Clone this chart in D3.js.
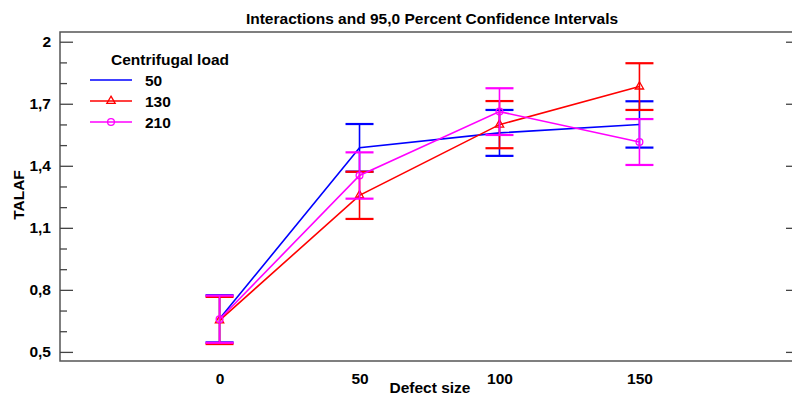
<!DOCTYPE html>
<html>
<head>
<meta charset="utf-8">
<script src="https://cdn.jsdelivr.net/npm/d3@7"></script>
<style>
  body { margin: 0; background: #fff; }
  svg { display: block; }
  text { font-family: "Liberation Sans Narrow", "Liberation Sans", Arial, sans-serif; font-weight: bold; fill: #000; }
</style>
</head>
<body>
<svg id="chart" width="792" height="397"></svg>
<script>
// data
const defectSizes = [0, 50, 100, 150];
const loads = ["50", "130", "210"];
const means50 = [0.66, 1.487, 1.559, 1.60];
const means130 = [0.652, 1.257, 1.599, 1.783];
const means210 = [0.658, 1.353, 1.662, 1.515];
const half50 = [0.114, 0.115, 0.111, 0.112];
const half130 = [0.114, 0.114, 0.114, 0.113];
const half210 = [0.114, 0.112, 0.113, 0.111];
const yMajorTicks = [0.5, 0.8, 1.1, 1.4, 1.7, 2.0];
const yMinorTicks = [0.6, 0.7, 0.9, 1.0, 1.2, 1.3, 1.5, 1.6, 1.8, 1.9];

const series = [
  { name: loads[0], means: means50, half: half50, color: "#0000ff", marker: null },
  { name: loads[1], means: means130, half: half130, color: "#ff0000", marker: "triangle" },
  { name: loads[2], means: means210, half: half210, color: "#ff00ff", marker: "circle" }
];

const svg = d3.select("#chart");
const pLeft = 60, pRight = 799, pTop = 32, pBottom = 361;

const x = d3.scaleLinear().domain([-57, 207]).range([pLeft, pRight]);
const y = d3.scaleLinear().domain([0.456, 2.047]).range([pBottom, pTop]);
const fmt = d => String(+d.toFixed(1)).replace(".", ",");

// title
svg.append("text")
  .attr("x", 432).attr("y", 24)
  .attr("text-anchor", "middle")
  .style("font-size", "15.5px")
  .text("Interactions and 95,0 Percent Confidence Intervals");

// frame
svg.append("rect")
  .attr("x", pLeft).attr("y", pTop)
  .attr("width", pRight - pLeft).attr("height", pBottom - pTop)
  .attr("fill", "none").attr("stroke", "#555").attr("stroke-width", 1.5);

// y axis, minor ticks first
svg.append("g")
  .attr("transform", `translate(${pLeft},0)`)
  .call(d3.axisLeft(y).tickValues(yMinorTicks).tickSize(-7).tickFormat(""))
  .call(g => g.select(".domain").remove())
  .call(g => g.selectAll("line").attr("stroke", "#444").attr("stroke-width", 1.3));

svg.append("g")
  .attr("transform", `translate(${pLeft},0)`)
  .call(d3.axisLeft(y).tickValues(yMajorTicks).tickSize(-13).tickPadding(9).tickFormat(fmt))
  .call(g => g.select(".domain").remove())
  .call(g => g.selectAll("line").attr("stroke", "#444").attr("stroke-width", 1.3))
  .call(g => g.selectAll("text").style("font-size", "15.5px").attr("fill", "#000"));

svg.append("g")
  .attr("transform", `translate(${pRight},0)`)
  .call(d3.axisRight(y).tickValues(yMajorTicks).tickSize(-13).tickFormat(""))
  .call(g => g.select(".domain").remove())
  .call(g => g.selectAll("line").attr("stroke", "#444").attr("stroke-width", 1.3));

// x axis labels (no tick marks)
svg.append("g")
  .attr("transform", `translate(0,${pBottom})`)
  .call(d3.axisBottom(x).tickValues(defectSizes).tickSize(0).tickPadding(12).tickFormat(d3.format("d")))
  .call(g => g.select(".domain").remove())
  .call(g => g.selectAll("text").style("font-size", "15.5px").attr("fill", "#000"));

svg.append("text")
  .attr("x", 430).attr("y", 393)
  .attr("text-anchor", "middle")
  .style("font-size", "15.5px")
  .text("Defect size");

svg.append("text")
  .attr("transform", "translate(24,195) rotate(-90)")
  .attr("text-anchor", "middle")
  .style("font-size", "15.5px")
  .text("TALAF");

// lines, error bars, markers
const line = d3.line().x((d, i) => x(defectSizes[i])).y(d => y(d));
const cap = 14;

series.forEach(s => {
  const g = svg.append("g");
  g.append("path")
    .datum(s.means)
    .attr("d", line)
    .attr("fill", "none")
    .attr("stroke", s.color)
    .attr("stroke-width", 1.6);

  const bars = g.selectAll(".bar")
    .data(s.means.map((m, i) => ({ xv: defectSizes[i], lo: m - s.half[i], hi: m + s.half[i] })))
    .join("g");
  bars.append("line")
    .attr("x1", d => x(d.xv)).attr("x2", d => x(d.xv))
    .attr("y1", d => y(d.lo)).attr("y2", d => y(d.hi))
    .attr("stroke", s.color).attr("stroke-width", 1.6);
  bars.append("line")
    .attr("x1", d => x(d.xv) - cap).attr("x2", d => x(d.xv) + cap)
    .attr("y1", d => y(d.hi)).attr("y2", d => y(d.hi))
    .attr("stroke", s.color).attr("stroke-width", 2.2);
  bars.append("line")
    .attr("x1", d => x(d.xv) - cap).attr("x2", d => x(d.xv) + cap)
    .attr("y1", d => y(d.lo)).attr("y2", d => y(d.lo))
    .attr("stroke", s.color).attr("stroke-width", 2.2);

  if (s.marker) {
    const sym = d3.symbol().type(s.marker === "triangle" ? d3.symbolTriangle : d3.symbolCircle).size(s.marker === "triangle" ? 30 : 36);
    g.selectAll(".pt")
      .data(s.means)
      .join("path")
      .attr("transform", (d, i) => `translate(${x(defectSizes[i])},${y(d)})`)
      .attr("d", sym)
      .attr("fill", "none")
      .attr("stroke", s.color)
      .attr("stroke-width", 1.3);
  }
});

// legend
const legend = svg.append("g");
legend.append("text")
  .attr("x", 111).attr("y", 65)
  .style("font-size", "15.5px")
  .text("Centrifugal load");

series.forEach((s, i) => {
  const ly = 80 + i * 21;
  legend.append("line")
    .attr("x1", 90).attr("x2", 132)
    .attr("y1", ly).attr("y2", ly)
    .attr("stroke", s.color).attr("stroke-width", 1.6);
  if (s.marker) {
    legend.append("path")
      .attr("transform", `translate(111,${ly})`)
      .attr("d", d3.symbol().type(s.marker === "triangle" ? d3.symbolTriangle : d3.symbolCircle).size(s.marker === "triangle" ? 30 : 36))
      .attr("fill", "none").attr("stroke", s.color).attr("stroke-width", 1.3);
  }
  legend.append("text")
    .attr("x", 145).attr("y", ly + 6)
    .style("font-size", "15.5px")
    .text(s.name);
});
</script>
</body>
</html>
